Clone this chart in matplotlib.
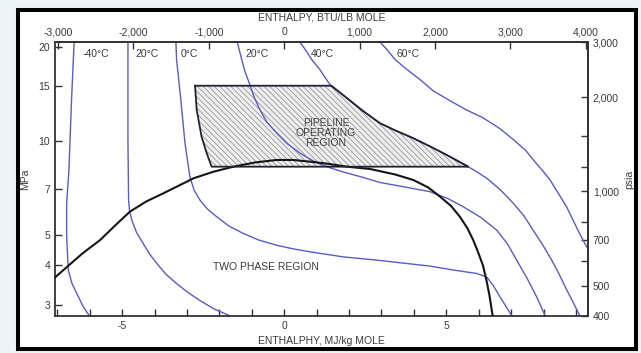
import numpy as np
import matplotlib.pyplot as plt
from matplotlib.patches import Rectangle, Polygon
from matplotlib.ticker import NullLocator

plt.rcParams['font.family'] = ['Liberation Sans', 'DejaVu Sans']
plt.rcParams['axes.unicode_minus'] = False
plt.rcParams['hatch.linewidth'] = 0.5

# isotherms: enthalpy (MJ/kg mole) against pressure (MPa)
h_m40 = [-6.48, -6.56, -6.64, -6.71, -6.71, -6.66, -6.55, -6.40, -6.22, -6.01]
p_m40 = [20.7, 13.5, 8.07, 6.33, 4.94, 3.86, 3.51, 3.26, 2.98, 2.76]

h_m20 = [-4.82, -4.82, -4.80, -4.77, -4.70, -4.56, -4.35, -4.16, -3.93, -3.65,
         -3.32, -2.97, -2.60, -2.15, -1.67]
p_m20 = [20.7, 10.0, 6.47, 5.97, 5.58, 5.11, 4.70, 4.36, 4.06, 3.75,
         3.50, 3.28, 3.09, 2.90, 2.76]

h_0 = [-3.34, -3.32, -3.21, -3.06, -2.91, -2.78, -2.60, -2.37, -2.08, -1.70,
       -1.26, -0.78, -0.23, 0.27, 0.80, 1.82, 2.85, 4.50, 5.27, 5.94,
       6.25, 6.44, 6.66, 6.84, 7.02]
p_0 = [20.7, 18.18, 14.22, 9.83, 7.69, 6.96, 6.47, 6.06, 5.72, 5.34,
       5.06, 4.82, 4.64, 4.52, 4.42, 4.26, 4.16, 3.98, 3.86, 3.77,
       3.67, 3.46, 3.17, 2.96, 2.76]

h_20 = [-1.45, -1.31, -1.21, -1.06, -0.92, -0.75, -0.53, -0.23, 0.10, 0.49,
        0.89, 1.31, 1.81, 2.34, 2.96, 3.73, 4.50, 5.05, 5.52, 6.07,
        6.56, 6.89, 7.17, 7.49, 7.79, 8.05]
p_20 = [20.7, 18.18, 16.65, 15.12, 13.73, 12.57, 11.46, 10.58, 9.78, 9.13,
        8.63, 8.27, 7.96, 7.69, 7.36, 7.12, 6.88, 6.54, 6.16, 5.69,
        5.18, 4.68, 4.16, 3.64, 3.17, 2.76]

h_40 = [0.48, 0.67, 0.85, 1.10, 1.41, 1.88, 2.40, 2.95, 3.45, 3.98,
        4.50, 5.01, 5.63, 5.92, 6.25, 6.66, 7.07, 7.40, 7.68, 7.98,
        8.25, 8.48, 8.69, 8.91, 9.12]
p_40 = [20.7, 19.44, 18.18, 16.89, 15.12, 13.84, 12.53, 11.39, 10.77, 10.20,
        9.60, 9.02, 8.32, 7.99, 7.59, 6.99, 6.31, 5.75, 5.18, 4.64,
        4.16, 3.75, 3.38, 3.05, 2.76]

h_60 = [2.95, 3.17, 3.42, 3.79, 4.19, 4.59, 5.11, 5.61, 6.13, 6.66,
        7.15, 7.46, 7.74, 7.98, 8.20, 8.45, 8.71, 8.91, 9.06, 9.33, 9.49]
p_60 = [20.7, 19.57, 18.18, 16.89, 15.69, 14.46, 13.44, 12.57, 11.85, 10.93,
        9.93, 9.29, 8.56, 8.01, 7.50, 6.81, 6.16, 5.58, 5.18, 4.58, 4.41]

isotherms = [(h_m40, p_m40), (h_m20, p_m20), (h_0, p_0),
             (h_20, p_20), (h_40, p_40), (h_60, p_60)]
iso_labels = ['-40°C', '20°C', '0°C', '20°C', '40°C', '60°C']
iso_label_h = [-5.80, -4.23, -2.92, -0.84, 1.19, 3.81]

# two phase envelope
h_env = [-7.07, -6.71, -6.21, -5.68, -5.22, -4.76, -4.26, -3.74, -3.28, -2.80,
         -2.20, -1.57, -0.90, -0.23, 0.27, 0.80, 1.35, 1.93, 2.65, 3.42,
         3.98, 4.44, 4.81, 5.15, 5.42, 5.65, 5.83, 5.98, 6.13, 6.24,
         6.33, 6.43]
p_env = [3.66, 3.95, 4.38, 4.82, 5.36, 5.94, 6.40, 6.79, 7.17, 7.59,
         7.96, 8.27, 8.53, 8.69, 8.69, 8.58, 8.45, 8.27, 8.13, 7.81,
         7.50, 7.10, 6.63, 6.19, 5.72, 5.26, 4.82, 4.41, 4.00, 3.58,
         3.21, 2.76]

# pipeline operating region: left boundary, pressure band, 40°C on the right
pipe_p_top = 15.0
pipe_p_bottom = 8.27
h_pipe_left = [-2.75, -2.70, -2.55, -2.39, -2.24]
p_pipe_left = [15.0, 12.57, 10.32, 9.13, 8.27]

psia_per_mpa = 145.038
mj_per_kbtu = 2.326

def h_on_isotherm(p, h_arr, p_arr):
    lp = np.log10(p_arr)[::-1]
    return np.interp(np.log10(p), lp, np.asarray(h_arr)[::-1])


fig = plt.figure(figsize=(6.41, 3.53), dpi=100)
fig.patch.set_facecolor('#eef4f4')
fig.patches.append(Rectangle((0.0281, 0.0113), 0.9641, 0.9604,
                             transform=fig.transFigure, facecolor='white',
                             edgecolor='black', linewidth=2.9, zorder=-5))

ax = fig.add_axes([0.0858, 0.1048, 0.8315, 0.7762])
ax.set_facecolor('white')
ax.set_yscale('log')
ax.set_xlim(-7.07, 9.37)
ax.set_ylim(2.7575, 20.69)

# hatched pipeline region
h40 = np.array(h_40)
p40 = np.array(p_40)
inside = (p40 < pipe_p_top) & (p40 > pipe_p_bottom)
right_h = np.concatenate([[h_on_isotherm(pipe_p_bottom, h_40, p_40)], h40[inside][::-1],
                          [h_on_isotherm(pipe_p_top, h_40, p_40)]])
right_p = np.concatenate([[pipe_p_bottom], p40[inside][::-1], [pipe_p_top]])
poly_h = np.concatenate([h_pipe_left, right_h])
poly_p = np.concatenate([p_pipe_left, right_p])
ax.add_patch(Polygon(np.column_stack([poly_h, poly_p]), closed=True,
                     facecolor='#eeeeee', edgecolor='#8a8a8a', hatch='\\\\\\\\\\\\',
                     linewidth=0, zorder=1))

for h, p in isotherms:
    ax.plot(h, p, color='#5a5ac8', lw=1.0, zorder=2)

ax.plot(h_env, p_env, color='#151515', lw=1.5, zorder=3)
ax.plot(np.append(poly_h, poly_h[0]), np.append(poly_p, poly_p[0]),
        color='#222233', lw=1.3, zorder=3)

for lab, hx in zip(iso_labels, iso_label_h):
    ax.text(hx, 19.0, lab, fontsize=7.5, color='#3a3a3a', ha='center', va='center')

ax.text(1.29, 10.6, 'PIPELINE\nOPERATING\nREGION', fontsize=7.5, color='#444444',
        ha='center', va='center', linespacing=1.05, zorder=4)
ax.text(-2.2, 3.94, 'TWO PHASE REGION', fontsize=7.5, color='#3a3a3a',
        ha='left', va='center')

# axes styling
tick_kw = dict(direction='in', length=5, width=1.0, colors='#333333',
               labelsize=7.5, labelcolor='#3a3a3a', pad=3.5)
for sp in ax.spines.values():
    sp.set_color('#333333')
    sp.set_linewidth(1.3)

ax.set_xticks([-5, 0, 5])
ax.set_xticks(np.arange(-7, 10), minor=True)
ax.set_yticks([3, 4, 5, 7, 10, 15, 20])
ax.set_yticklabels(['3', '4', '5', '7', '10', '15', '20'])
ax.yaxis.set_minor_locator(NullLocator())
ax.tick_params(which='both', **tick_kw)
ax.set_xlabel('ENTHALPHY, MJ/kg MOLE', fontsize=7.5, color='#3a3a3a', labelpad=4)
ax.set_ylabel('MPa', fontsize=7.5, color='#3a3a3a', labelpad=6)

top = ax.secondary_xaxis('top', functions=(lambda h: h / mj_per_kbtu * 1000,
                                           lambda b: b * mj_per_kbtu / 1000))
btu_ticks = [-3000, -2000, -1000, 0, 1000, 2000, 3000, 4000]
top.set_xticks(btu_ticks)
top.set_xticklabels([f'{b:,}' for b in btu_ticks])
top.tick_params(**tick_kw)
top.spines['top'].set_color('#333333')
top.spines['top'].set_linewidth(1.3)
top.set_xlabel('ENTHALPY, BTU/LB MOLE', fontsize=7.5, color='#3a3a3a', labelpad=5)

right = ax.secondary_yaxis('right', functions=(lambda p: p * psia_per_mpa,
                                               lambda q: q / psia_per_mpa))
psia_ticks = [400, 500, 600, 700, 800, 1000, 1200, 1500, 2000, 3000]
psia_shown = {400, 500, 700, 1000, 2000, 3000}
right.set_yticks(psia_ticks)
right.set_yticklabels([f'{q:,}' if q in psia_shown else '' for q in psia_ticks])
right.yaxis.set_minor_locator(NullLocator())
right.tick_params(**tick_kw)
right.spines['right'].set_color('#333333')
right.spines['right'].set_linewidth(1.3)
right.set_ylabel('psia', fontsize=7.5, color='#3a3a3a', labelpad=4)

fig.savefig('out.png', dpi=100, facecolor=fig.get_facecolor())
